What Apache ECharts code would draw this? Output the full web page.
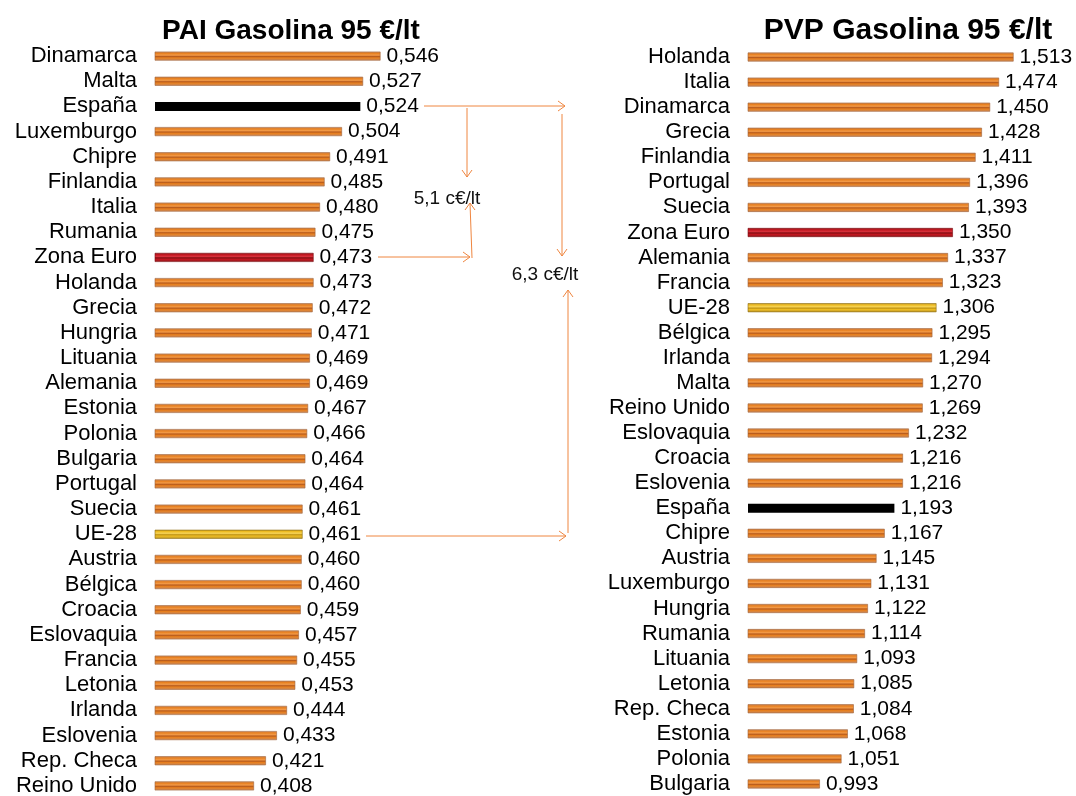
<!DOCTYPE html>
<html>
<head>
<meta charset="utf-8">
<script src="https://cdn.jsdelivr.net/npm/echarts@6/dist/echarts.min.js"></script>
<style>
  html, body { margin: 0; padding: 0; background: #fff; }
  #main { width: 1076px; height: 796px; }
</style>
</head>
<body>
<div id="main"></div>
<script>
// PAI (precio antes de impuestos) gasolina 95, €/lt
var paiPaises = ["Dinamarca", "Malta", "España", "Luxemburgo", "Chipre", "Finlandia", "Italia", "Rumania",
  "Zona Euro", "Holanda", "Grecia", "Hungria", "Lituania", "Alemania", "Estonia", "Polonia", "Bulgaria",
  "Portugal", "Suecia", "UE-28", "Austria", "Bélgica", "Croacia", "Eslovaquia", "Francia", "Letonia",
  "Irlanda", "Eslovenia", "Rep. Checa", "Reino Unido"];
var paiValores = [0.546, 0.527, 0.524, 0.504, 0.491, 0.485, 0.480, 0.475, 0.473, 0.473, 0.472, 0.471,
  0.469, 0.469, 0.467, 0.466, 0.464, 0.464, 0.461, 0.461, 0.460, 0.460, 0.459, 0.457, 0.455, 0.453,
  0.444, 0.433, 0.421, 0.408];

// PVP (precio de venta al público) gasolina 95, €/lt
var pvpPaises = ["Holanda", "Italia", "Dinamarca", "Grecia", "Finlandia", "Portugal", "Suecia", "Zona Euro",
  "Alemania", "Francia", "UE-28", "Bélgica", "Irlanda", "Malta", "Reino Unido", "Eslovaquia", "Croacia",
  "Eslovenia", "España", "Chipre", "Austria", "Luxemburgo", "Hungria", "Rumania", "Lituania", "Letonia",
  "Rep. Checa", "Estonia", "Polonia", "Bulgaria"];
var pvpValores = [1.513, 1.474, 1.450, 1.428, 1.411, 1.396, 1.393, 1.350, 1.337, 1.323, 1.306, 1.295,
  1.294, 1.270, 1.269, 1.232, 1.216, 1.216, 1.193, 1.167, 1.145, 1.131, 1.122, 1.114, 1.093, 1.085,
  1.084, 1.068, 1.051, 0.993];

var titulos = ["PAI Gasolina 95 €/lt", "PVP Gasolina 95 €/lt"];
var diferencias = ["5,1 c€/lt", "6,3 c€/lt"];

var FONT = "'Liberation Sans', Arial, sans-serif";
var naranja = "#ef8640";

function grad(c) {
  return new echarts.graphic.LinearGradient(0, 0, 0, 1, [
    { offset: 0, color: c[0] }, { offset: 0.2, color: c[1] }, { offset: 0.4, color: c[2] },
    { offset: 0.55, color: c[3] }, { offset: 0.7, color: c[1] }, { offset: 1, color: c[0] }
  ]);
}
var estilos = {
  normal: { color: grad(["#c98a5e", "#e8801f", "#f29a48", "#b95c1c"]), borderColor: "#a0633a", borderWidth: 0.6 },
  "España": { color: "#000000" },
  "Zona Euro": { color: grad(["#8d1a1e", "#c4161f", "#d6303a", "#830d12"]), borderColor: "#7c0c10", borderWidth: 0.6 },
  "UE-28": { color: grad(["#b8952e", "#eebc22", "#f7d458", "#c09414"]), borderColor: "#8d6d14", borderWidth: 0.6 }
};

function items(paises, valores) {
  return valores.map(function (v, i) {
    return { value: v, itemStyle: estilos[paises[i]] || estilos.normal };
  });
}
function fmt(p) { return p.value.toFixed(3).replace(".", ","); }

var yBase = {
  type: "category", inverse: true,
  axisLine: { show: false }, axisTick: { show: false }, splitLine: { show: false },
  axisLabel: { interval: 0, color: "#000", fontFamily: FONT, fontSize: 22, margin: 18 }
};
var xBase = { type: "value", show: false, splitLine: { show: false } };

var chart = echarts.init(document.getElementById("main"));
chart.setOption({
  backgroundColor: "#fff",
  animation: false,
  grid: [
    { left: 155, top: 43.5, width: 275, height: 755, outerBoundsMode: "none" },
    { left: 748, top: 44.5, width: 298, height: 752, outerBoundsMode: "none" }
  ],
  xAxis: [
    Object.assign({ gridIndex: 0, min: 0.3, max: 0.6 }, xBase),
    Object.assign({ gridIndex: 1, min: 0.8, max: 1.6 }, xBase)
  ],
  yAxis: [
    Object.assign({ gridIndex: 0, data: paiPaises }, yBase),
    Object.assign({ gridIndex: 1, data: pvpPaises }, yBase)
  ],
  series: [
    {
      type: "bar", xAxisIndex: 0, yAxisIndex: 0, barWidth: 9,
      data: items(paiPaises, paiValores),
      label: { show: true, position: "right", distance: 6, formatter: fmt, color: "#000", fontFamily: FONT, fontSize: 21 }
    },
    {
      type: "bar", xAxisIndex: 1, yAxisIndex: 1, barWidth: 9,
      data: items(pvpPaises, pvpValores),
      label: { show: true, position: "right", distance: 6, formatter: fmt, color: "#000", fontFamily: FONT, fontSize: 21 }
    }
  ],
  graphic: [
    { type: "text", style: { text: titulos[0], x: 291, y: 31, align: "center", verticalAlign: "middle", font: "bold 28px " + FONT, fill: "#000" } },
    { type: "text", style: { text: titulos[1], x: 908, y: 31, align: "center", verticalAlign: "middle", font: "bold 30px " + FONT, fill: "#000" } },
    { type: "text", style: { text: diferencias[0], x: 447, y: 199, align: "center", verticalAlign: "middle", font: "19px " + FONT, fill: "#111" } },
    { type: "text", style: { text: diferencias[1], x: 545, y: 275, align: "center", verticalAlign: "middle", font: "19px " + FONT, fill: "#111" } },
    // flechas
    { type: "polyline", shape: { points: [[424, 106], [565, 106]] }, style: { stroke: naranja, lineWidth: 1 } },
    { type: "polyline", shape: { points: [[558, 101], [565, 106], [558, 111]] }, style: { stroke: naranja, lineWidth: 1, fill: null } },
    { type: "polyline", shape: { points: [[467, 108], [467, 177]] }, style: { stroke: naranja, lineWidth: 1 } },
    { type: "polyline", shape: { points: [[462, 170], [467, 177], [472, 170]] }, style: { stroke: naranja, lineWidth: 1, fill: null } },
    { type: "polyline", shape: { points: [[378, 257], [470, 257]] }, style: { stroke: naranja, lineWidth: 1 } },
    { type: "polyline", shape: { points: [[463, 252], [470, 257], [463, 262]] }, style: { stroke: naranja, lineWidth: 1, fill: null } },
    { type: "polyline", shape: { points: [[472, 258], [470, 203]] }, style: { stroke: naranja, lineWidth: 1 } },
    { type: "polyline", shape: { points: [[465, 210], [470, 203], [475, 210]] }, style: { stroke: naranja, lineWidth: 1, fill: null } },
    { type: "polyline", shape: { points: [[562, 114], [562, 256]] }, style: { stroke: naranja, lineWidth: 1 } },
    { type: "polyline", shape: { points: [[557, 249], [562, 256], [567, 249]] }, style: { stroke: naranja, lineWidth: 1, fill: null } },
    { type: "polyline", shape: { points: [[366, 536], [566, 536]] }, style: { stroke: naranja, lineWidth: 1 } },
    { type: "polyline", shape: { points: [[559, 531], [566, 536], [559, 541]] }, style: { stroke: naranja, lineWidth: 1, fill: null } },
    { type: "polyline", shape: { points: [[568, 533], [568, 290]] }, style: { stroke: naranja, lineWidth: 1 } },
    { type: "polyline", shape: { points: [[563, 297], [568, 290], [573, 297]] }, style: { stroke: naranja, lineWidth: 1, fill: null } }
  ]
});
</script>
</body>
</html>
